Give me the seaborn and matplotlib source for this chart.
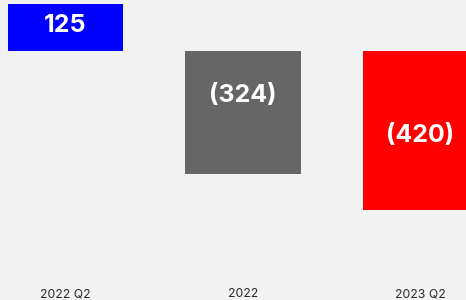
import pandas as pd
import matplotlib.pyplot as plt
import seaborn as sns

# values
periods = ["2022 Q2", "2022", "2023 Q2"]
values = [125, -324, -420]
labels = ["125", "(324)", "(420)"]
colors = ["#0000ff", "#666666", "#ff0000"]

df = pd.DataFrame({"period": periods, "value": values})

sns.set_style("white")
plt.rcParams["font.family"] = ["Inter", "DejaVu Sans"]

fig = plt.figure(figsize=(4.66, 3.0), dpi=100, facecolor="#f2f2f2")
ax = fig.add_axes([0, 0.06, 1, 0.94])
ax.set_facecolor("#f2f2f2")

sns.barplot(data=df, x="period", y="value", hue="period", palette=colors,
            width=0.65, legend=False, ax=ax, edgecolor="none", saturation=1)

# value labels inside the bars
label_frac = [0.55, 0.36, 0.53]
for i, (v, lab) in enumerate(zip(values, labels)):
    ax.text(i, v * label_frac[i], lab, ha="center", va="center",
            color="white", fontsize=18, fontweight="bold")

ax.set_xlim(-0.369, 2.256)
ax.set_ylim(-611, 135)
ax.set_xlabel("")
ax.set_ylabel("")
ax.set_yticks([])
ax.tick_params(axis="x", length=0, pad=4.5, labelsize=8.8, labelcolor="#2a2a2a")
sns.despine(left=True, bottom=True)

fig.savefig("out.png", dpi=100, facecolor=fig.get_facecolor())
